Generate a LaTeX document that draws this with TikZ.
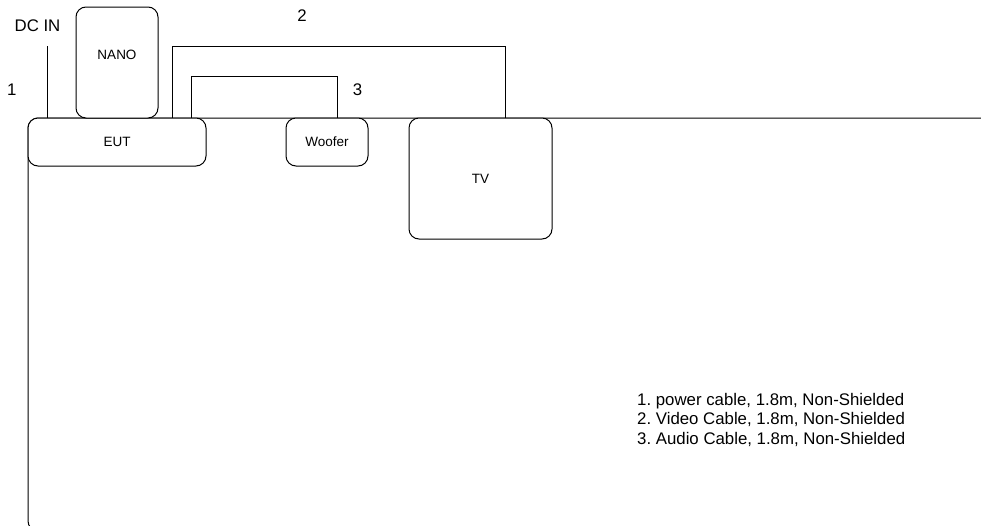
\documentclass[tikz,border=0pt]{standalone}
\usepackage{fontspec}
\setmainfont{Liberation Sans}
\frenchspacing
\begin{document}
\begin{tikzpicture}[x=1pt,y=-1pt,
  box/.style={draw, rounded corners=10pt, fill=white, line width=1pt, inner sep=0pt,
    font=\fontsize{13.5}{16}\selectfont},
  boxlbl/.style={font=\fontsize{13.5}{16}\selectfont, inner sep=0pt},
  big/.style={font=\fontsize{16.8}{19.4}\selectfont, inner sep=0pt},
  cable/.style={draw, line width=1pt}]
\useasboundingbox (0,0) rectangle (981,525);
\clip (0,0) rectangle (981,525);
% table outline
\coordinate (tblR) at (995,118);
\coordinate (tblTL) at (28,118);
\coordinate (tblBL) at (28,531);
\coordinate (tblBR) at (995,531);
\draw[cable, rounded corners=10pt] (tblR) -- (tblTL) -- (tblBL) -- (tblBR);
% devices
\node[box, minimum width=178pt, minimum height=48pt] (eut) at (117,142) {EUT};
\node[box, minimum width=82pt, minimum height=111pt,
  label={[boxlbl, name=nanolbl, yshift=7.5pt]center:NANO}] (nano) at (117,62.5) {};
\node[box, minimum width=82pt, minimum height=48pt] (woofer) at (327,142) {Woofer};
\node[box, minimum width=143pt, minimum height=121pt] (tv) at (480.5,178.5) {TV};
% cables
\coordinate (dcin) at (47,46);
\draw[cable] (dcin) -- (dcin |- eut.north);
\coordinate (v2) at (172,46);
\coordinate (v2r) at (505,46);
\draw[cable] (v2 |- eut.north) -- (v2) -- (v2r) -- (v2r |- tv.north);
\coordinate (a3) at (191,76);
\coordinate (a3r) at (337,76);
\draw[cable] (a3 |- eut.north) -- (a3) -- (a3r) -- (a3r |- woofer.north);
% labels
\node[big, anchor=base] (dclbl) at (37.5,31) {DC IN};
\node[big, anchor=base] (n1) at (11.7,95) {1};
\node[big, anchor=base] (n2) at (302,21.7) {2};
\node[big, anchor=base] (n3) at (357.5,95) {3};
% legend
\node[big, anchor=base west] (leg1) at (637,405) {1. power cable, 1.8m, Non-Shielded};
\node[big, anchor=base west] (leg2) at (637,424.5) {2. Video Cable, 1.8m, Non-Shielded};
\node[big, anchor=base west] (leg3) at (637,444) {3. Audio Cable, 1.8m, Non-Shielded};
\end{tikzpicture}
\end{document}
